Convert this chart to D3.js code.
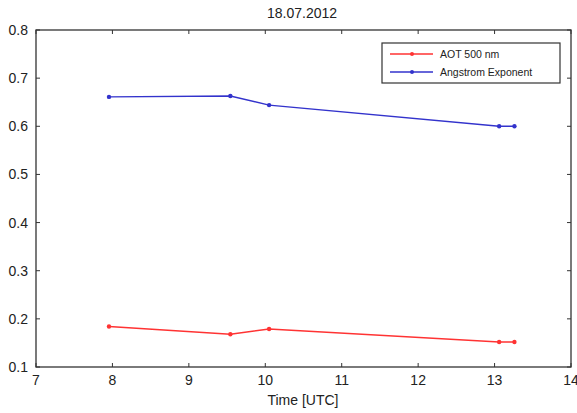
<!DOCTYPE html>
<html><head><meta charset="utf-8">
<script src="https://cdn.jsdelivr.net/npm/d3@7"></script>
<style>body{margin:0;background:#fff}svg{display:block}text{font-family:"Liberation Sans",Arial,sans-serif}</style>
</head><body><svg id="c" width="577" height="413"></svg>
<script>
const title = "18.07.2012";
const xLabel = "Time [UTC]";
const times = [7.955, 9.543, 10.05, 13.06, 13.26];
const aot = [0.184, 0.168, 0.179, 0.152, 0.152];
const angstrom = [0.661, 0.663, 0.644, 0.600, 0.600];
const seriesNames = ["AOT 500 nm", "Angstrom Exponent"];
const seriesColors = ["#ff3333", "#3333cc"];
const xTicks = [7, 8, 9, 10, 11, 12, 13, 14];
const yTicks = [0.1, 0.2, 0.3, 0.4, 0.5, 0.6, 0.7, 0.8];

const svg = d3.select("#c");
const L = 36, R = 571, T = 30, B = 367;
const x = d3.scaleLinear().domain([7, 14]).range([L, R]);
const y = d3.scaleLinear().domain([0.1, 0.8]).range([B, T]);
const axisCol = "#333";
const g = svg.append("g");
g.append("rect").attr("x", L).attr("y", T).attr("width", R - L).attr("height", B - T)
  .attr("fill", "#fff").attr("stroke", axisCol).attr("stroke-width", 1.3);
const tl = 4;
xTicks.forEach(t => {
  const px = x(t);
  g.append("line").attr("x1", px).attr("x2", px).attr("y1", B).attr("y2", B - tl).attr("stroke", axisCol);
  g.append("line").attr("x1", px).attr("x2", px).attr("y1", T).attr("y2", T + tl).attr("stroke", axisCol);
  g.append("text").attr("x", px).attr("y", B + 18).attr("text-anchor", "middle")
    .attr("font-size", 14).attr("fill", "#222").text(d3.format("d")(t));
});
yTicks.forEach(t => {
  const py = y(t);
  g.append("line").attr("x1", L).attr("x2", L + tl).attr("y1", py).attr("y2", py).attr("stroke", axisCol);
  g.append("line").attr("x1", R).attr("x2", R - tl).attr("y1", py).attr("y2", py).attr("stroke", axisCol);
  g.append("text").attr("x", L - 8).attr("y", py + 5).attr("text-anchor", "end")
    .attr("font-size", 14).attr("fill", "#222").text(d3.format(".1f")(t));
});
svg.append("text").attr("x", 302).attr("y", 18).attr("text-anchor", "middle")
  .attr("font-size", 14).attr("fill", "#222").text(title);
svg.append("text").attr("x", 303).attr("y", 405).attr("text-anchor", "middle")
  .attr("font-size", 14).attr("fill", "#222").text(xLabel);

const line = d3.line().x(d => x(d[0])).y(d => y(d[1]));
[aot, angstrom].forEach((vals, i) => {
  const pts = times.map((t, j) => [t, vals[j]]);
  svg.append("path").datum(pts).attr("d", line).attr("fill", "none")
    .attr("stroke", seriesColors[i]).attr("stroke-width", 1.4);
  svg.selectAll(null).data(pts).enter().append("circle")
    .attr("cx", d => x(d[0])).attr("cy", d => y(d[1])).attr("r", 2.2).attr("fill", seriesColors[i]);
});

// legend
const lg = svg.append("g");
lg.append("rect").attr("x", 382).attr("y", 43).attr("width", 178).attr("height", 40)
  .attr("fill", "#fff").attr("stroke", axisCol).attr("stroke-width", 1.2);
seriesNames.forEach((n, i) => {
  const ly = 54 + i * 18;
  lg.append("line").attr("x1", 390).attr("x2", 433).attr("y1", ly).attr("y2", ly)
    .attr("stroke", seriesColors[i]).attr("stroke-width", 1.4);
  lg.append("circle").attr("cx", 412).attr("cy", ly).attr("r", 2).attr("fill", seriesColors[i]);
  lg.append("text").attr("x", 440).attr("y", ly + 4).attr("font-size", 10.5).attr("fill", "#222").text(n);
});
</script></body></html>
